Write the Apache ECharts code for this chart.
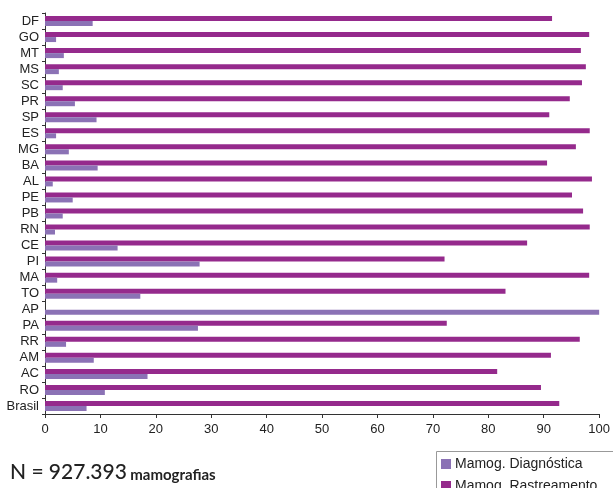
<!DOCTYPE html>
<html>
<head>
<meta charset="utf-8">
<script src="https://cdn.jsdelivr.net/npm/echarts@6/dist/echarts.min.js"></script>
<style>html,body{margin:0;padding:0;background:#fff;}#c{width:613px;height:488px;}</style>
</head>
<body>
<div id="c"></div>
<script>
const categories = ['DF','GO','MT','MS','SC','PR','SP','ES','MG','BA','AL','PE','PB','RN','CE','PI','MA','TO','AP','PA','RR','AM','AC','RO','Brasil'];
const diagnostica = [8.6,2.0,3.4,2.5,3.2,5.4,9.3,2.0,4.3,9.5,1.4,5.0,3.2,1.8,13.1,27.9,2.2,17.2,100,27.6,3.8,8.8,18.5,10.8,7.5];
const rastreamento = [91.5,98.2,96.7,97.6,96.9,94.7,91.0,98.3,95.8,90.6,98.7,95.1,97.1,98.3,87.0,72.1,98.2,83.1,0,72.5,96.5,91.3,81.6,89.5,92.8];
const xTicks = [0,10,20,30,40,50,60,70,80,90,100];
const seriesNames = ['Mamog. Diagnóstica','Mamog. Rastreamento'];
const colors = {diag:'#8B72B5', rast:'#952A8C'};

const chart = echarts.init(document.getElementById('c'), null, {renderer:'canvas'});
chart.setOption({
  animation:false,
  backgroundColor:'#ffffff',
  grid:{left:45,right:11,top:13,bottom:74,containLabel:false},
  xAxis:{
    type:'value',min:0,max:100,interval:10,
    axisLine:{show:true,lineStyle:{color:'#333',width:1}},
    axisTick:{show:true,length:4,lineStyle:{color:'#333'}},
    splitLine:{show:false},
    axisLabel:{color:'#222',fontFamily:'Liberation Sans, Arial',fontSize:13,margin:9,
      formatter:v=>xTicks.includes(v)?String(v):''}
  },
  yAxis:{
    type:'category',data:categories,inverse:true,
    axisLine:{show:true,lineStyle:{color:'#333',width:1}},
    axisTick:{show:true,length:3,interval:0,lineStyle:{color:'#333'}},
    axisLabel:{color:'#222',fontFamily:'Liberation Sans, Arial',fontSize:13,margin:6,interval:0}
  },
  legend:{show:false},
  series:[
    {name:seriesNames[1],type:'bar',data:rastreamento,barWidth:5,barGap:'0%',
     itemStyle:{color:colors.rast}},
    {name:seriesNames[0],type:'bar',data:diagnostica,barWidth:5,barGap:'0%',
     itemStyle:{color:colors.diag}}
  ],
  graphic:[
    {
      type:'text',left:10,top:462,
      style:{
        text:'{a|N = 927.393} {b|mamografias}',
        rich:{
          a:{fontFamily:'Lato, Liberation Sans, Arial',fontSize:21,fontWeight:500,fill:'#222',verticalAlign:'bottom'},
          b:{fontFamily:'Lato, Liberation Sans, Arial',fontSize:15,fontWeight:'bold',fill:'#222',verticalAlign:'bottom'}
        }
      }
    },
    {type:'rect',shape:{x:436.5,y:451.5,width:200,height:60},style:{fill:'#fff',stroke:'#999',lineWidth:1},z:10},
    {type:'rect',shape:{x:441,y:459,width:10,height:10},style:{fill:colors.diag},z:11},
    {type:'text',x:455,y:464,style:{text:seriesNames[0],fill:'#222',font:'14px "Liberation Sans", Arial',verticalAlign:'middle'},z:11},
    {type:'rect',shape:{x:441,y:481,width:10,height:10},style:{fill:colors.rast},z:11},
    {type:'text',x:455,y:486,style:{text:seriesNames[1],fill:'#222',font:'14px "Liberation Sans", Arial',verticalAlign:'middle'},z:11}
  ]
});
</script>
</body>
</html>
